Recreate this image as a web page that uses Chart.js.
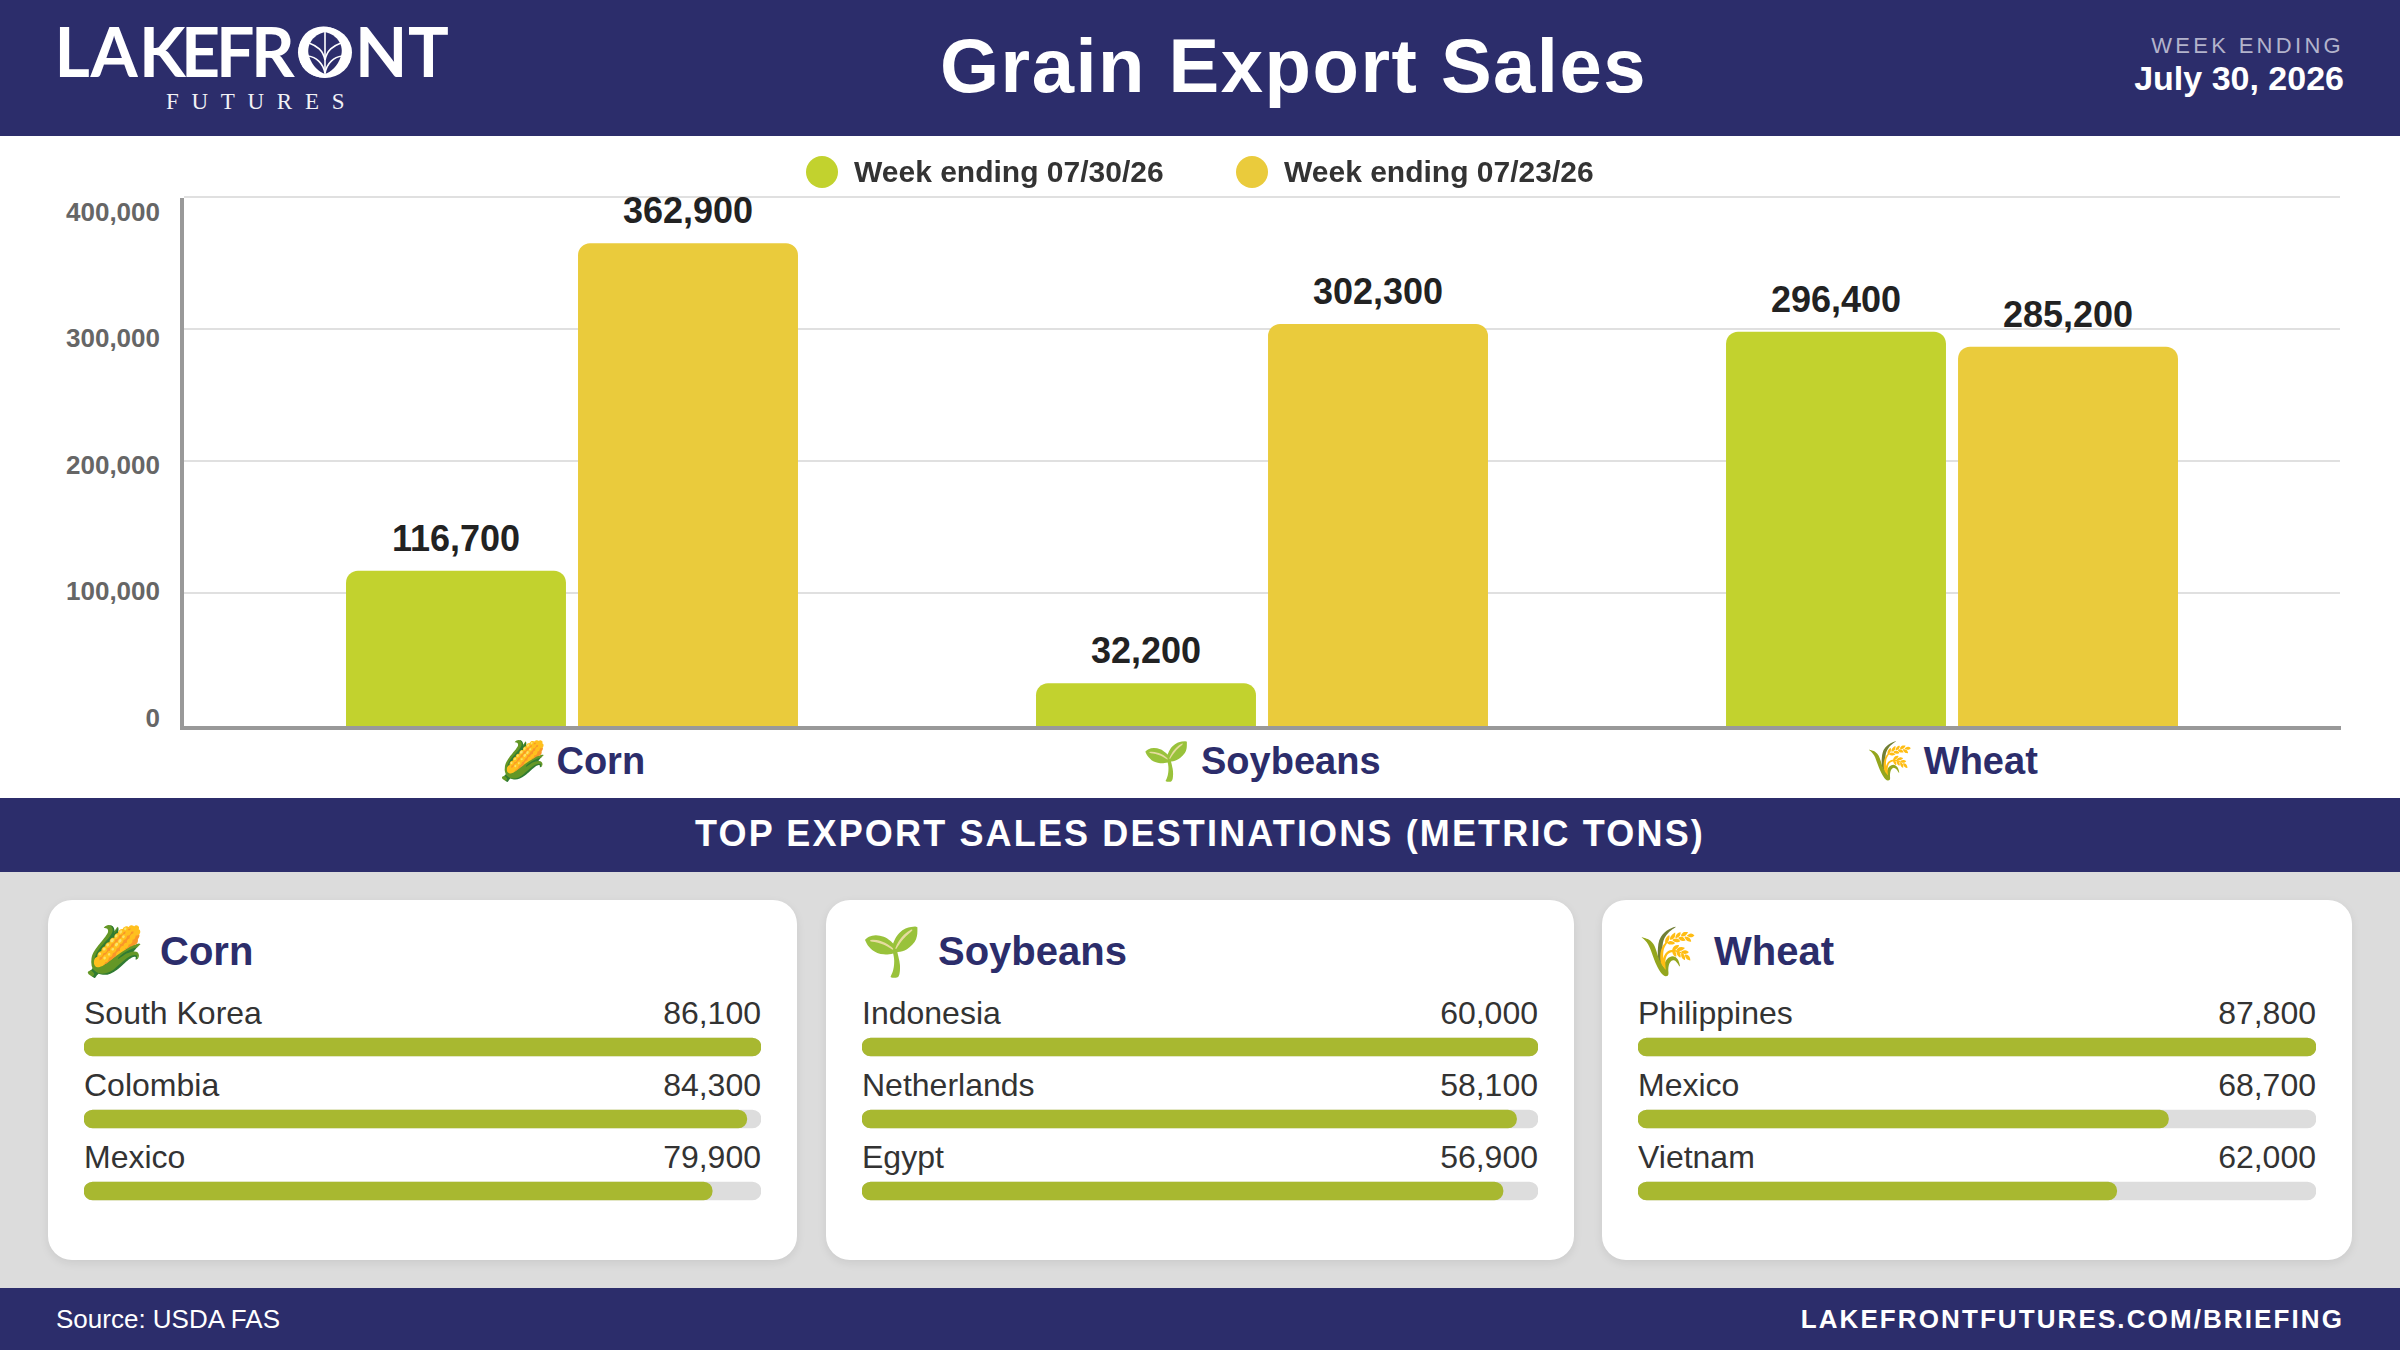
<!DOCTYPE html>
<html>
<head>
<meta charset="utf-8">
<script src="https://cdn.jsdelivr.net/npm/chart.js@4"></script>
<style>
html,body{margin:0;padding:0;background:#fff}
body{width:2400px;height:1350px;position:relative;overflow:hidden;font-family:"Liberation Sans",Arial,sans-serif}
.abs{position:absolute}
#header{left:0;top:0;width:2400px;height:136px;background:#2c2d6b}
#title{left:0;top:0;width:2587px;height:132px;line-height:132px;text-align:center;color:#fff;font-weight:700;font-size:76px;letter-spacing:1.5px}
#wk{right:56px;top:33px;color:#b3b3cb;font-size:22px;letter-spacing:3.3px;line-height:26px}
#wkd{right:56px;top:58px;color:#fff;font-size:34px;font-weight:700;line-height:40px}
#legend{left:0;top:0}
.lg-dot{position:absolute;top:156px;width:32px;height:32px;border-radius:50%}
.lg-txt{position:absolute;top:152px;line-height:40px;font-size:30px;font-weight:700;color:#333;white-space:nowrap}
#banner{left:0;top:798px;width:2400px;height:74px;background:#2c2d6b;color:#fff;text-align:center;line-height:72px;font-weight:700;font-size:36px;letter-spacing:2.15px}
#panel{left:0;top:872px;width:2400px;height:416px;background:#dcdcdc}
#footer{left:0;top:1288px;width:2400px;height:62px;background:#2c2d6b;color:#fff}
#src{left:56px;top:0;line-height:62px;font-size:26px}
#site{right:56px;top:0;line-height:62px;font-size:26px;font-weight:700;letter-spacing:2.1px}
.card{position:absolute;top:900px;height:360px;background:#fff;border-radius:24px;box-shadow:0 3px 10px rgba(0,0,0,.08)}
.card-icon{position:absolute;top:922px;font-size:48px;line-height:60px}
.card-title{position:absolute;top:926px;font-size:40px;line-height:50px;font-weight:700;color:#2c2d6b}
canvas{position:absolute;display:block}
</style>
</head>
<body>
<div id="header" class="abs"></div>
<svg class="abs" style="left:0;top:0" width="500" height="136" xmlns="http://www.w3.org/2000/svg">
  <text y="77" x="54.5 90.5 139 181 216 251 296 355 408" font-family="Lato" font-weight="700" font-size="68" fill="#fff">LAKEFRONT</text>
  <ellipse cx="325" cy="52.5" rx="27" ry="25.5" fill="#fff"/>
  <path d="M325 32 C338 35 344 46 341 56 C338 66 331 72 325 74 C319 72 312 66 309 56 C306 46 312 35 325 32 Z" fill="#2c2d6b"/>
  <g fill="none" stroke="#fff" stroke-width="1.6">
    <path d="M325 32 V74"/>
    <path d="M325 60 C327 50 333 46 341 43"/><path d="M325 60 C323 50 317 46 309 43"/>
    <path d="M325 73 C327 63 334 57 342 56"/><path d="M325 73 C323 63 316 57 308 56"/>
  </g>
  <text y="109" x="166" font-family="Liberation Serif" font-size="23" letter-spacing="12.7" fill="#f2f2f6">FUTURES</text>
</svg>
<div id="title" class="abs">Grain Export Sales</div>
<div id="wk" class="abs">WEEK ENDING</div>
<div id="wkd" class="abs">July 30, 2026</div>
<canvas id="main" width="2400" height="662" style="left:0;top:136px"></canvas>
<div id="legend" class="abs"></div>
<div id="banner" class="abs">TOP EXPORT SALES DESTINATIONS (METRIC TONS)</div>
<div id="panel" class="abs"></div>
<div id="footer" class="abs"><div id="src" class="abs">Source: USDA FAS</div><div id="site" class="abs">LAKEFRONTFUTURES.COM/BRIEFING</div></div>
<div id="cards"></div>
<script>
// ---- data ----
const categories   = ["Corn", "Soybeans", "Wheat"];
const icons        = ["🌽", "🌱", "🌾"];
const seriesNames  = ["Week ending 07/30/26", "Week ending 07/23/26"];
const weekLatest   = [116700, 32200, 296400];
const weekPrior    = [362900, 302300, 285200];
const yTickValues  = [0, 100000, 200000, 300000, 400000];
const cornDest     = ["South Korea", "Colombia", "Mexico"];
const cornVals     = [86100, 84300, 79900];
const soyDest      = ["Indonesia", "Netherlands", "Egypt"];
const soyVals      = [60000, 58100, 56900];
const wheatDest    = ["Philippines", "Mexico", "Vietnam"];
const wheatVals    = [87800, 68700, 62000];

// ---- styling ----
const NAVY="#2c2d6b", GREEN="#c2d22e", YELLOW="#eacb3c", FILL="#a8b830", TRACK="#dddddd";
const FONT='"Liberation Sans", Arial, sans-serif';
const fmt=v=>Number(v).toLocaleString("en-US");
const paint=color=>({id:"paint",beforeDraw(c){const g=c.ctx;g.save();g.fillStyle=color;g.fillRect(0,0,c.width,c.height);g.restore();}});

// legend, built from the series names
const lg=document.getElementById("legend");
[[806,854,GREEN],[1236,1284,YELLOW]].forEach((p,i)=>{
  const d=document.createElement("div");d.className="lg-dot";d.style.left=p[0]+"px";d.style.background=p[2];lg.appendChild(d);
  const t=document.createElement("div");t.className="lg-txt";t.style.left=p[1]+"px";t.textContent=seriesNames[i];lg.appendChild(t);
});

// value labels above the main bars; the y border stops under the top gridline
const valueLabels={id:"valueLabels",
  beforeDatasetsDraw(c){const g=c.ctx,a=c.chartArea;g.save();g.fillStyle="#fff";g.fillRect(a.left-3,a.top-4,6,5);g.fillStyle="#e0e0e0";g.fillRect(a.left+2,a.top-1,2,2);g.restore();},
  afterDatasetsDraw(c){
  const g=c.ctx;g.save();g.font="700 36px "+FONT;g.fillStyle="#222";g.textAlign="center";g.textBaseline="middle";
  c.data.datasets.forEach((ds,di)=>{c.getDatasetMeta(di).data.forEach((el,i)=>{g.fillText(fmt(ds.data[i].y),el.x,el.y-30);});});
  g.restore();
}};

const mainCtx=document.getElementById("main").getContext("2d",{alpha:false});
new Chart(mainCtx,{
  type:"bar",
  data:{datasets:[
    {label:seriesNames[0],data:weekLatest.map((v,i)=>({x:i,y:v})),backgroundColor:GREEN},
    {label:seriesNames[1],data:weekPrior.map((v,i)=>({x:i,y:v})),backgroundColor:YELLOW}
  ]},
  options:{
    responsive:false,animation:false,devicePixelRatio:1,
    layout:{padding:{top:61,right:60,left:0,bottom:0}},
    categoryPercentage:0.6725,barPercentage:0.948,
    elements:{bar:{borderRadius:{topLeft:12,topRight:12,bottomLeft:0,bottomRight:0},borderSkipped:false}},
    plugins:{legend:{display:false},tooltip:{enabled:false}},
    scales:{
      x:{type:"linear",offset:false,min:-0.5652,max:2.5623,
        grid:{display:false,offset:false,drawTicks:false},
        border:{display:true,color:"#999999",width:4},
        afterBuildTicks(s){s.ticks=categories.map((_,i)=>({value:i}));},
        afterFit(s){s.height=70;},
        ticks:{autoSkip:false,maxRotation:0,padding:13,color:NAVY,font:{family:FONT,weight:"700",size:38},
          callback:v=>icons[v]+" "+categories[v]}},
      y:{type:"linear",min:-1504,max:397744,display:false},
      yGrid:{axis:"y",type:"linear",position:"left",weight:0,min:-2273,max:400000,
        grid:{color:"#e0e0e0",lineWidth:2,drawTicks:false},
        border:{display:true,color:"#999999",width:4},
        ticks:{display:false},
        afterBuildTicks(s){s.ticks=yTickValues.filter(v=>v>0).map(v=>({value:v}));},
        afterFit(s){s.width=0;}},
      yLabels:{axis:"y",type:"linear",position:"left",weight:1,min:-6724,max:413046,
        grid:{display:false,drawTicks:false},border:{display:false},
        afterBuildTicks(s){s.ticks=yTickValues.map(v=>({value:v}));},
        afterFit(s){s.width=182;},
        ticks:{autoSkip:false,padding:22,color:"#666666",font:{family:FONT,weight:"700",size:26},callback:v=>fmt(v)}}
    }
  },
  plugins:[paint("#ffffff"),valueLabels]
});

// destination cards
const rowLabels={id:"rowLabels",afterDatasetsDraw(c){
  const g=c.ctx;g.save();g.font="400 32px "+FONT;g.fillStyle="#333333";g.textBaseline="middle";
  const fill=c.data.datasets[1];
  c.getDatasetMeta(1).data.forEach((el,i)=>{
    g.textAlign="left";g.fillText(c.data.labels[i],c.chartArea.left,el.y-32);
    g.textAlign="right";g.fillText(fmt(fill.data[i]),c.chartArea.right,el.y-32);
  });
  g.restore();
}};
const cards=document.getElementById("cards");
[[48,749,84,677,cornDest,cornVals,0],[826,748,862,676,soyDest,soyVals,1],[1602,750,1638,678,wheatDest,wheatVals,2]].forEach(([cx,cw,bx,bw,dest,vals,k])=>{
  const card=document.createElement("div");card.className="card";card.style.left=cx+"px";card.style.width=cw+"px";cards.appendChild(card);
  const ic=document.createElement("div");ic.className="card-icon";ic.style.left=(cx+36)+"px";ic.textContent=icons[k];cards.appendChild(ic);
  const ti=document.createElement("div");ti.className="card-title";ti.style.left=(cx+112)+"px";ti.textContent=categories[k];cards.appendChild(ti);
  const cv=document.createElement("canvas");cv.width=bw;cv.height=237;cv.style.left=bx+"px";cv.style.top="990px";cards.appendChild(cv);
  const top=Math.max(...vals);
  new Chart(cv.getContext("2d",{alpha:false}),{
    type:"bar",
    data:{labels:dest,datasets:[
      {data:vals.map(()=>top),backgroundColor:TRACK,order:2,grouped:false},
      {data:vals,backgroundColor:FILL,order:1,grouped:false}
    ]},
    options:{
      indexAxis:"y",responsive:false,animation:false,devicePixelRatio:1,
      layout:{padding:{top:21}},
      elements:{bar:{borderRadius:9,borderSkipped:false}},
      datasets:{bar:{barThickness:18}},
      plugins:{legend:{display:false},tooltip:{enabled:false}},
      scales:{x:{display:false,min:0,max:top},y:{display:false}}
    },
    plugins:[paint("#ffffff"),rowLabels]
  });
});
</script>
</body>
</html>
